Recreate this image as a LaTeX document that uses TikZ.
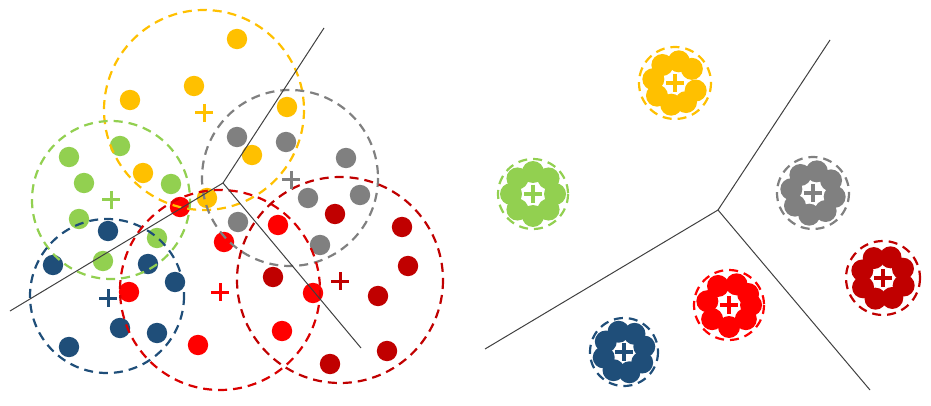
\documentclass[tikz,border=0pt]{standalone}
\definecolor{kuning}{HTML}{FFC000}
\definecolor{hijau}{HTML}{92D050}
\definecolor{abu}{HTML}{808080}
\definecolor{biru}{HTML}{1F4E79}
\definecolor{merah}{HTML}{FF0000}
\definecolor{marun}{HTML}{C00000}

% Tanda pusat cluster
\newcommand{\tanda}[3]{%
  \draw[line width=#3, draw=#1] #2 ++(-9,0) -- ++(18,0);
  \draw[line width=#3, draw=#1] #2 ++(0,-9) -- ++(0,18);}

\begin{document}
\begin{tikzpicture}[x=1pt,y=-1pt,
    batas/.style={draw=#1, line width=2.2pt, dash pattern=on 9pt off 6pt},
    garis/.style={draw=black!75, line width=1pt}]

  \useasboundingbox (0,0) rectangle (931,406);

  % Titik kuning
  \foreach \p in {(237,39),(194,86),(130,100),(143,173),(287,107),(252,155),(207,198)}
    \fill[kuning] \p circle (10.2);

  % Titik hijau
  \foreach \p in {(120,146),(69,157),(84,183),(171,184),(79,219),(157,238),(103,261)}
    \fill[hijau] \p circle (10.2);

  % Titik biru
  \foreach \p in {(108,231),(53,265),(148,264),(175,282),(120,328),(157,333),(69,347)}
    \fill[biru] \p circle (10.2);

  % Titik abu-abu
  \foreach \p in {(237,137),(286,142),(346,158),(308,198),(360,195),(238,222),(320,245)}
    \fill[abu] \p circle (10.2);

  % Titik merah
  \foreach \p in {(180,207),(224,242),(278,225),(129,292),(198,345),(313,293),(282,331)}
    \fill[merah] \p circle (10.2);

  % Titik merah tua
  \foreach \p in {(335,214),(402,227),(408,266),(273,277),(378,296),(387,351),(330,364)}
    \fill[marun] \p circle (10.2);

  % Lingkaran cluster kiri
  \draw[batas=kuning] (204,110) circle (100);
  \draw[batas=hijau] (111,200) circle (79);
  \draw[batas=abu] (290,178) circle (88);
  \draw[batas=biru] (107,296) circle (77);
  \draw[batas=merah!85!black] (220,290) circle (100);
  \draw[batas=marun] (340,280) circle (103);

  % Pusat cluster kiri
  \tanda{kuning}{(204,113)}{3pt}
  \tanda{hijau}{(111,200)}{3pt}
  \tanda{abu}{(291,180)}{3pt}
  \tanda{biru}{(108,298)}{3pt}
  \tanda{merah}{(220,292)}{3pt}
  \tanda{marun}{(340,281)}{3pt}

  % Garis batas kiri
  \coordinate (V1) at (223,183);
  \coordinate (P1) at (324,28);
  \coordinate (P2) at (10,311);
  \coordinate (P3) at (361,348);
  \draw[garis] (V1) -- (P1);
  \draw[garis] (V1) -- (P2);
  \draw[garis] (V1) -- (P3);

  % Cluster kanan
  \coordinate (K) at (675,83);
  \coordinate (H) at (533,194);
  \coordinate (A) at (813,193);
  \coordinate (B) at (624,352);
  \coordinate (M) at (729,305);
  \coordinate (T) at (883,278);

  \foreach \a in {20,60,100,145,190,235,280,320}
    \fill[kuning] (K) ++(\a:22) circle (11);
  \foreach \a in {0,45,90,135,180,225,270,315}
    \fill[hijau] (H) ++(\a:22) circle (11);
  \foreach \a in {10,55,100,145,190,235,280,325}
    \fill[abu] (A) ++(\a:22) circle (11);
  \foreach \a in {30,75,120,165,210,255,300,345}
    \fill[biru] (B) ++(\a:21) circle (11);
  \foreach \a in {0,40,90,140,190,240,290,330}
    \fill[merah] (M) ++(\a:22) circle (11);
  \foreach \a in {20,65,110,155,200,245,290,335}
    \fill[marun] (T) ++(\a:22) circle (11);

  \draw[batas=kuning] (K) circle (36);
  \draw[batas=hijau] (H) circle (35);
  \draw[batas=abu] (A) circle (36);
  \draw[batas=biru] (B) circle (34);
  \draw[batas=merah] (M) circle (35);
  \draw[batas=marun] (T) circle (37);

  \tanda{kuning}{(K)}{3.2pt}
  \tanda{hijau}{(H)}{3.2pt}
  \tanda{abu}{(A)}{3.2pt}
  \tanda{biru}{(B)}{3.2pt}
  \tanda{merah}{(M)}{3.2pt}
  \tanda{marun}{(T)}{3.2pt}

  % Garis batas kanan
  \coordinate (V2) at (718,210);
  \coordinate (Q1) at (830,40);
  \coordinate (Q2) at (485,349);
  \coordinate (Q3) at (870,390);
  \draw[garis] (V2) -- (Q1);
  \draw[garis] (V2) -- (Q2);
  \draw[garis] (V2) -- (Q3);

\end{tikzpicture}
\end{document}
